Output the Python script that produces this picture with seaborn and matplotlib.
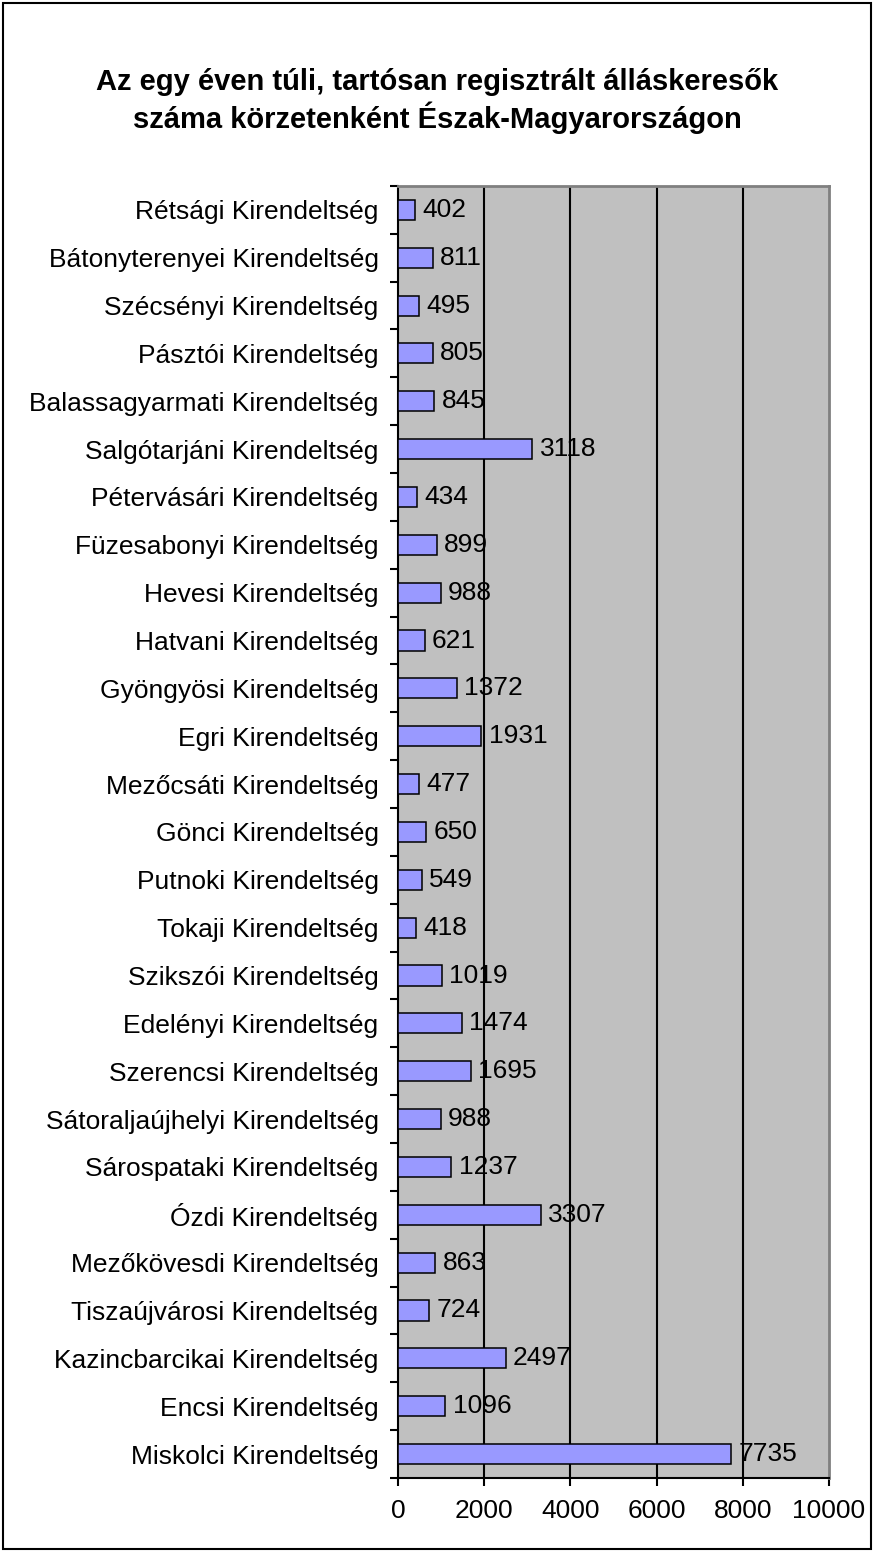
import numpy as np
import pandas as pd
import matplotlib
matplotlib.use('Agg')
import matplotlib.pyplot as plt
import seaborn as sns
from matplotlib.patches import Rectangle

# Data (top to bottom)
offices = [
    'Rétsági Kirendeltség', 'Bátonyterenyei Kirendeltség', 'Szécsényi Kirendeltség',
    'Pásztói Kirendeltség', 'Balassagyarmati Kirendeltség', 'Salgótarjáni Kirendeltség',
    'Pétervásári Kirendeltség', 'Füzesabonyi Kirendeltség', 'Hevesi Kirendeltség',
    'Hatvani Kirendeltség', 'Gyöngyösi Kirendeltség', 'Egri Kirendeltség',
    'Mezőcsáti Kirendeltség', 'Gönci Kirendeltség', 'Putnoki Kirendeltség',
    'Tokaji Kirendeltség', 'Szikszói Kirendeltség', 'Edelényi Kirendeltség',
    'Szerencsi Kirendeltség', 'Sátoraljaújhelyi Kirendeltség', 'Sárospataki Kirendeltség',
    'Ózdi Kirendeltség', 'Mezőkövesdi Kirendeltség', 'Tiszaújvárosi Kirendeltség',
    'Kazincbarcikai Kirendeltség', 'Encsi Kirendeltség', 'Miskolci Kirendeltség',
]
job_seekers = [402, 811, 495, 805, 845, 3118, 434, 899, 988, 621, 1372, 1931, 477, 650,
               549, 418, 1019, 1474, 1695, 988, 1237, 3307, 863, 724, 2497, 1096, 7735]
x_ticks = [0, 2000, 4000, 6000, 8000, 10000]

title = 'Az egy éven túli, tartósan regisztrált álláskeresők\nszáma körzetenként Észak-Magyarországon'

sns.set_theme(style='white')
plt.rcParams['font.family'] = ['Liberation Sans', 'DejaVu Sans']

df = pd.DataFrame({'office': offices, 'value': job_seekers})

fig = plt.figure(figsize=(8.74, 15.52), dpi=100)
ax = fig.add_axes([0.4554, 0.0477, 0.4931, 0.8325])
ax.set_facecolor('#C0C0C0')

sns.barplot(data=df, x='value', y='office', orient='h', color='#9999FF',
            saturation=1, width=0.42, edgecolor='black', linewidth=1.1, ax=ax, zorder=3)

# value labels next to the bars
for i, v in enumerate(job_seekers):
    ax.text(v + 170, i, str(v), va='center', ha='left', fontsize=19, color='black', zorder=4)

ax.set_xlim(0, 10000)
ax.set_ylim(len(offices) - 0.5, -0.5)
ax.set_xticks(x_ticks)
ax.set_xticklabels([str(t) for t in x_ticks], fontsize=19)
ax.set_xlabel('')
ax.set_ylabel('')
ax.tick_params(axis='y', which='major', length=0, pad=14, labelsize=19, labelcolor='black')
ax.set_yticks(np.arange(-0.5, len(offices), 1), minor=True)
ax.tick_params(axis='y', which='minor', length=6, width=1.5, color='black', direction='out', left=True)
ax.tick_params(axis='x', which='major', length=6, width=1.5, color='black', direction='out',
               bottom=True, pad=9, labelcolor='black')

for g in x_ticks[1:-1]:
    ax.axvline(g, color='black', linewidth=1.5, zorder=1)

for side in ['left', 'bottom']:
    ax.spines[side].set_color('black')
    ax.spines[side].set_linewidth(1.5)
for side in ['top', 'right']:
    ax.spines[side].set_color('#808080')
    ax.spines[side].set_linewidth(2)
    ax.spines[side].set_visible(True)

fig.text(0.5, 0.935, title, ha='center', va='center', fontsize=21, fontweight='bold',
         linespacing=1.2, color='black')

fig.patches.append(Rectangle((0.004, 0.002), 0.992, 0.996, transform=fig.transFigure,
                             fill=False, edgecolor='black', linewidth=1.5))

fig.savefig('out.png', dpi=100)
